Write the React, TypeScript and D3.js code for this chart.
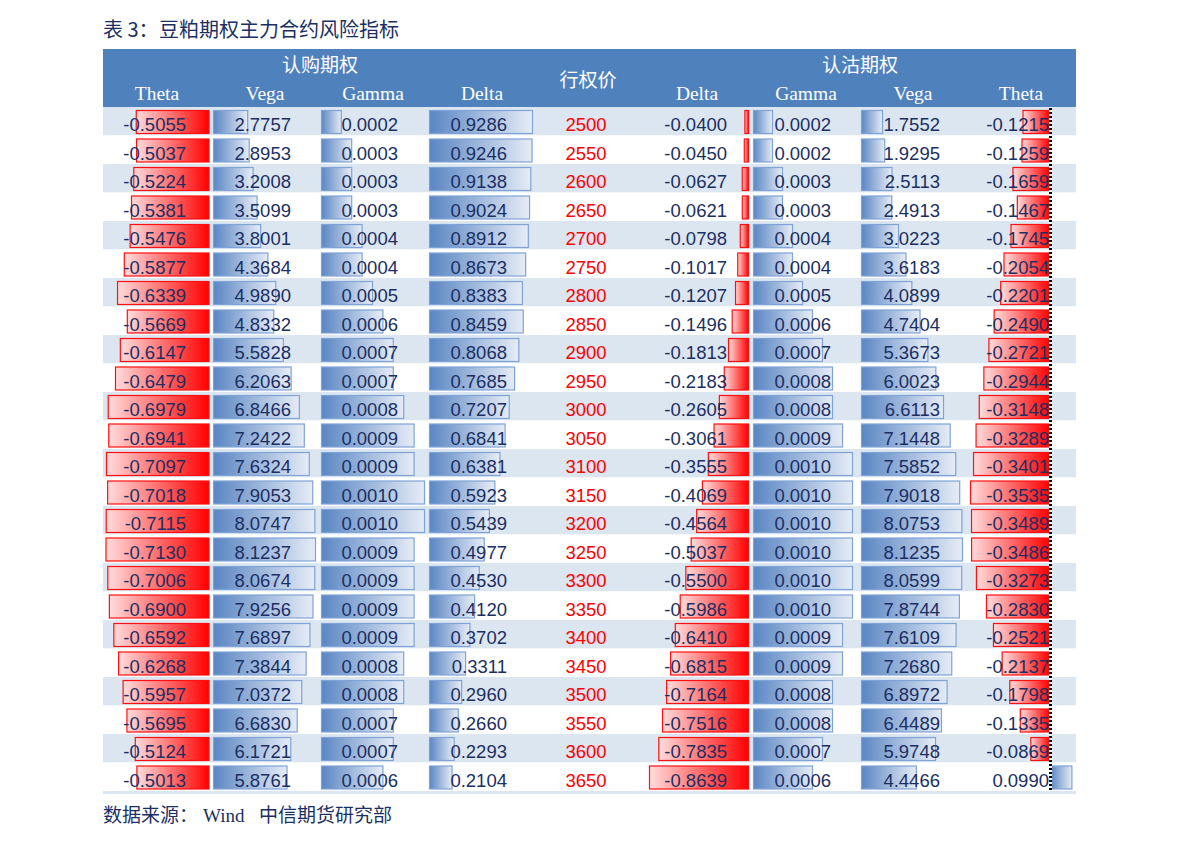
import React from "react";
import * as d3 from "d3";

const strikes = [2500, 2550, 2600, 2650, 2700, 2750, 2800, 2850, 2900, 2950, 3000, 3050, 3100, 3150, 3200, 3250, 3300, 3350, 3400, 3450, 3500, 3550, 3600, 3650];
const callTheta = [-0.5055, -0.5037, -0.5224, -0.5381, -0.5476, -0.5877, -0.6339, -0.5669, -0.6147, -0.6479, -0.6979, -0.6941, -0.7097, -0.7018, -0.7115, -0.7130, -0.7006, -0.6900, -0.6592, -0.6268, -0.5957, -0.5695, -0.5124, -0.5013];
const callVega = [2.7757, 2.8953, 3.2008, 3.5099, 3.8001, 4.3684, 4.9890, 4.8332, 5.5828, 6.2063, 6.8466, 7.2422, 7.6324, 7.9053, 8.0747, 8.1237, 8.0674, 7.9256, 7.6897, 7.3844, 7.0372, 6.6830, 6.1721, 5.8761];
const callGamma = [0.0002, 0.0003, 0.0003, 0.0003, 0.0004, 0.0004, 0.0005, 0.0006, 0.0007, 0.0007, 0.0008, 0.0009, 0.0009, 0.0010, 0.0010, 0.0009, 0.0009, 0.0009, 0.0009, 0.0008, 0.0008, 0.0007, 0.0007, 0.0006];
const callDelta = [0.9286, 0.9246, 0.9138, 0.9024, 0.8912, 0.8673, 0.8383, 0.8459, 0.8068, 0.7685, 0.7207, 0.6841, 0.6381, 0.5923, 0.5439, 0.4977, 0.4530, 0.4120, 0.3702, 0.3311, 0.2960, 0.2660, 0.2293, 0.2104];
const putDelta = [-0.0400, -0.0450, -0.0627, -0.0621, -0.0798, -0.1017, -0.1207, -0.1496, -0.1813, -0.2183, -0.2605, -0.3061, -0.3555, -0.4069, -0.4564, -0.5037, -0.5500, -0.5986, -0.6410, -0.6815, -0.7164, -0.7516, -0.7835, -0.8639];
const putGamma = [0.0002, 0.0002, 0.0003, 0.0003, 0.0004, 0.0004, 0.0005, 0.0006, 0.0007, 0.0008, 0.0008, 0.0009, 0.0010, 0.0010, 0.0010, 0.0010, 0.0010, 0.0010, 0.0009, 0.0009, 0.0008, 0.0008, 0.0007, 0.0006];
const putVega = [1.7552, 1.9295, 2.5113, 2.4913, 3.0223, 3.6183, 4.0899, 4.7404, 5.3673, 6.0023, 6.6113, 7.1448, 7.5852, 7.9018, 8.0753, 8.1235, 8.0599, 7.8744, 7.6109, 7.2680, 6.8972, 6.4489, 5.9748, 4.4466];
const putTheta = [-0.1215, -0.1259, -0.1659, -0.1467, -0.1745, -0.2054, -0.2201, -0.2490, -0.2721, -0.2944, -0.3148, -0.3289, -0.3401, -0.3535, -0.3489, -0.3486, -0.3273, -0.2830, -0.2521, -0.2137, -0.1798, -0.1335, -0.0869, 0.0990];

const callHeaders = ["Theta", "Vega", "Gamma", "Delta"];
const putHeaders = ["Delta", "Gamma", "Vega", "Theta"];

const TITLE_PREFIX = "表 3：";
const TITLE = "豆粕期权主力合约风险指标";
const CALL_LABEL = "认购期权";
const PUT_LABEL = "认沽期权";
const STRIKE_LABEL = "行权价";
const SOURCE_LABEL = "数据来源：";
const SOURCE_WIND = "Wind";
const SOURCE_ORG = "中信期货研究部";

const NAVY = "#1B2F63";
const HEADER_BG = "#4F81BD";
const BAND = "#DCE6F1";

const TABLE_L = 103;
const TABLE_R = 1076;
const HEAD_TOP = 49;
const ROW_TOP = 107;
const ROW_H = 28.5;

type Col = {
  values: number[];
  axis: number;
  maxW: number;
  textRight: number;
  headerX: number;
};

const cols: Col[] = [
  { values: callTheta, axis: 209.5, maxW: 104, textRight: 186, headerX: 157 },
  { values: callVega, axis: 213, maxW: 103, textRight: 291, headerX: 265 },
  { values: callGamma, axis: 321, maxW: 104, textRight: 398, headerX: 373 },
  { values: callDelta, axis: 429, maxW: 104, textRight: 507, headerX: 482 },
  { values: putDelta, axis: 749, maxW: 100, textRight: 727, headerX: 697 },
  { values: putGamma, axis: 753, maxW: 100, textRight: 831, headerX: 806 },
  { values: putVega, axis: 861, maxW: 102, textRight: 940, headerX: 913 },
  { values: putTheta, axis: 1050, maxW: 80, textRight: 1049, headerX: 1021 },
];

const headerLabels = [...callHeaders, ...putHeaders];
const fmt = (v: number) => v.toFixed(4);

export default function App() {
  const rowY = d3.scaleLinear().domain([0, 1]).range([ROW_TOP, ROW_TOP + ROW_H]);
  const nRows = strikes.length;
  const sans = "'Liberation Sans', Arial, sans-serif";
  const serif = "'Liberation Serif', 'Times New Roman', serif";
  const cjk = "'Noto Sans CJK SC', sans-serif";

  return (
    <svg width={1191} height={845} style={{ position: "absolute", left: 0, top: 0, background: "#fff" }}>
      <defs>
        <linearGradient id="redGrad" x1="0" x2="1" y1="0" y2="0">
          <stop offset="0" stopColor="#FFDCDC" />
          <stop offset="1" stopColor="#FF0000" />
        </linearGradient>
        <linearGradient id="blueGrad" x1="0" x2="1" y1="0" y2="0">
          <stop offset="0" stopColor="#5A86C3" />
          <stop offset="1" stopColor="#E6ECF6" />
        </linearGradient>
        <pattern id="dash" width="3" height="4" patternUnits="userSpaceOnUse">
          <rect width="3" height="2" fill="#000" />
          <rect y="2" width="3" height="2" fill="#fff" />
        </pattern>
      </defs>

      <text x={103} y={37} fontFamily={cjk} fontSize={20} fill={NAVY}>{TITLE_PREFIX}</text>
      <text x={159} y={37} fontFamily={cjk} fontSize={20} fill={NAVY}>{TITLE}</text>

      <rect x={TABLE_L} y={HEAD_TOP} width={TABLE_R - TABLE_L} height={ROW_TOP - HEAD_TOP} fill={HEADER_BG} />
      <text x={320} y={72} textAnchor="middle" fontFamily={cjk} fontSize={19} fill="#fff">{CALL_LABEL}</text>
      <text x={860} y={72} textAnchor="middle" fontFamily={cjk} fontSize={19} fill="#fff">{PUT_LABEL}</text>
      <text x={588} y={87} textAnchor="middle" fontFamily={cjk} fontSize={19} fill="#fff">{STRIKE_LABEL}</text>
      {cols.map((c, i) => (
        <text key={"h" + i} x={c.headerX} y={100} textAnchor="middle" fontFamily={serif} fontSize={19.5} fill="#fff">{headerLabels[i]}</text>
      ))}

      {strikes.map((s, r) => (
        <rect key={"b" + r} x={TABLE_L} y={rowY(r)} width={TABLE_R - TABLE_L} height={ROW_H} fill={r % 2 === 0 ? BAND : "#fff"} />
      ))}
      <rect x={TABLE_L} y={rowY(nRows)} width={TABLE_R - TABLE_L} height={3} fill={BAND} />

      {cols.map((c, ci) => {
        const maxAbs = d3.max(c.values, (v) => Math.abs(v)) as number;
        const w = d3.scaleLinear().domain([0, maxAbs]).range([0, c.maxW]);
        return (
          <g key={"c" + ci}>
            {c.values.map((v, r) => {
              const bw = w(Math.abs(v));
              const x = v < 0 ? c.axis - bw : c.axis;
              const y0 = rowY(r) + 3;
              return (
                <rect key={r} x={x + 0.5} y={y0 + 0.5} width={Math.max(bw - 1, 0.5)} height={23}
                  fill={v < 0 ? "url(#redGrad)" : "url(#blueGrad)"}
                  stroke={v < 0 ? "#FF1010" : "#7FA3D6"} strokeWidth={1.2} />
              );
            })}
          </g>
        );
      })}

      <rect x={1049} y={rowY(0)} width={3} height={ROW_H * nRows} fill="url(#dash)" />

      {cols.map((c, ci) => (
        <g key={"t" + ci}>
          {c.values.map((v, r) => (
            <text key={r} x={c.textRight} y={rowY(r) + 24} textAnchor="end" fontFamily={sans} fontSize={18.5} fill={NAVY}>{fmt(v)}</text>
          ))}
        </g>
      ))}

      {strikes.map((s, r) => (
        <text key={"s" + r} x={586} y={rowY(r) + 24} textAnchor="middle" fontFamily={sans} fontSize={18.5} fill="#FF0000">{s}</text>
      ))}

      <text x={103} y={822} fontFamily={cjk} fontSize={19} fill={NAVY}>{SOURCE_LABEL}</text>
      <text x={203} y={822} fontFamily={serif} fontSize={19} fill={NAVY}>{SOURCE_WIND}</text>
      <text x={259} y={822} fontFamily={cjk} fontSize={19} fill={NAVY}>{SOURCE_ORG}</text>
    </svg>
  );
}
